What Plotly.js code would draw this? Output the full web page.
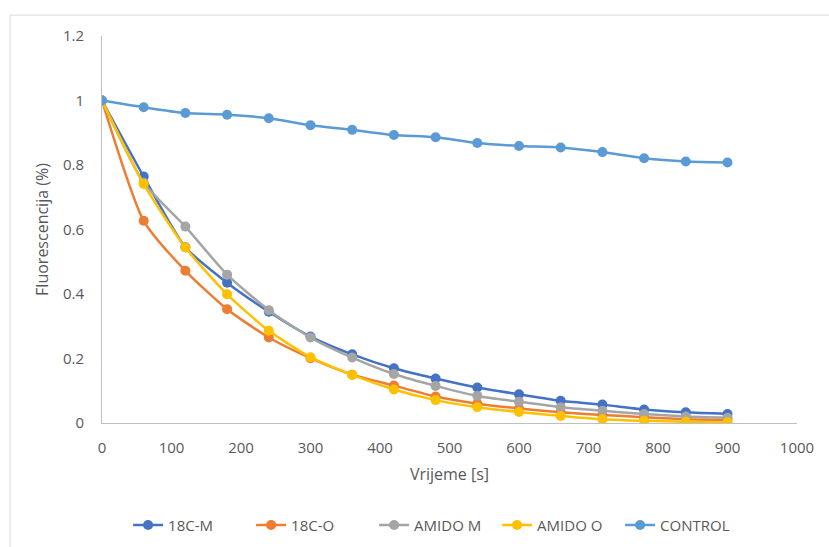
<!DOCTYPE html>
<html>
<head>
<meta charset="utf-8">
<script src="https://cdn.plot.ly/plotly-3.0.1.min.js"></script>
<style>html,body{margin:0;padding:0;background:#fff;}#chart{width:829px;height:547px;}</style>
</head>
<body>
<div id="chart"></div>
<script>
const time = [0,60,120,180,240,300,360,420,480,540,600,660,720,780,840,900];
const c18M = [1,0.764,0.545,0.435,0.345,0.268,0.213,0.170,0.138,0.110,0.089,0.069,0.057,0.042,0.033,0.028];
const c18O = [1,0.627,0.472,0.353,0.265,0.201,0.150,0.116,0.082,0.060,0.045,0.033,0.025,0.018,0.012,0.010];
const amidoM = [1,0.745,0.609,0.460,0.350,0.265,0.203,0.152,0.115,0.084,0.066,0.049,0.038,0.028,0.020,0.016];
const amidoO = [1,0.741,0.544,0.399,0.286,0.204,0.149,0.104,0.071,0.049,0.034,0.022,0.012,0.007,0.004,0.002];
const control = [1,0.979,0.961,0.956,0.945,0.923,0.909,0.893,0.886,0.868,0.859,0.854,0.840,0.821,0.811,0.808];
const names = ['18C-M','18C-O','AMIDO M','AMIDO O','CONTROL'];
const series = [c18M,c18O,amidoM,amidoO,control];
const colors = ['#4472C4','#ED7D31','#A5A5A5','#FFC000','#5B9BD5'];

const traces = series.map((s,i)=>({
  x: time, y: s, name: names[i], type:'scatter', mode:'lines+markers',
  line:{color:colors[i], width:2.5, shape:'spline', smoothing:0.6},
  marker:{color:colors[i], size:10}
}));

const font = {family:'"Open Sans", "Liberation Sans", sans-serif', size:15, color:'#595959'};
const layout = {
  width:829, height:547,
  margin:{l:102, r:32, t:36, b:124, autoexpand:false},
  paper_bgcolor:'#fff', plot_bgcolor:'#fff',
  font: font,
  showlegend:true,
  legend:{orientation:'h', x:0.48, xanchor:'center', y:-0.264, yanchor:'middle', font:{...font, size:15}, tracegroupgap:0, entrywidth:78, entrywidthmode:'pixels'},
  xaxis:{range:[0,1000], dtick:100, tick0:0, showgrid:false, zeroline:false, showline:true, linecolor:'#BFBFBF', linewidth:1, ticks:'', ticklabelstandoff:11,
    tickfont:{...font, size:15},
    title:{text:'Vrijeme [s]', font:{...font, size:16}, standoff:12}},
  yaxis:{range:[0,1.2], dtick:0.2, tick0:0, showgrid:false, zeroline:false, showline:true, linecolor:'#BFBFBF', linewidth:1, ticks:'', ticklabelstandoff:14,
    tickfont:{...font, size:15},
    title:{text:'Fluorescencija (%)', font:{...font, size:16}, standoff:10}},
  shapes:[{type:'rect', xref:'paper', yref:'paper', x0:-0.1324, x1:1.06, y0:-0.36, y1:1.054, line:{color:'#D9D9D9', width:1}, fillcolor:'rgba(0,0,0,0)', layer:'below'}]
};
Plotly.newPlot('chart', traces, layout, {displayModeBar:false, staticPlot:true});
</script>
</body>
</html>
